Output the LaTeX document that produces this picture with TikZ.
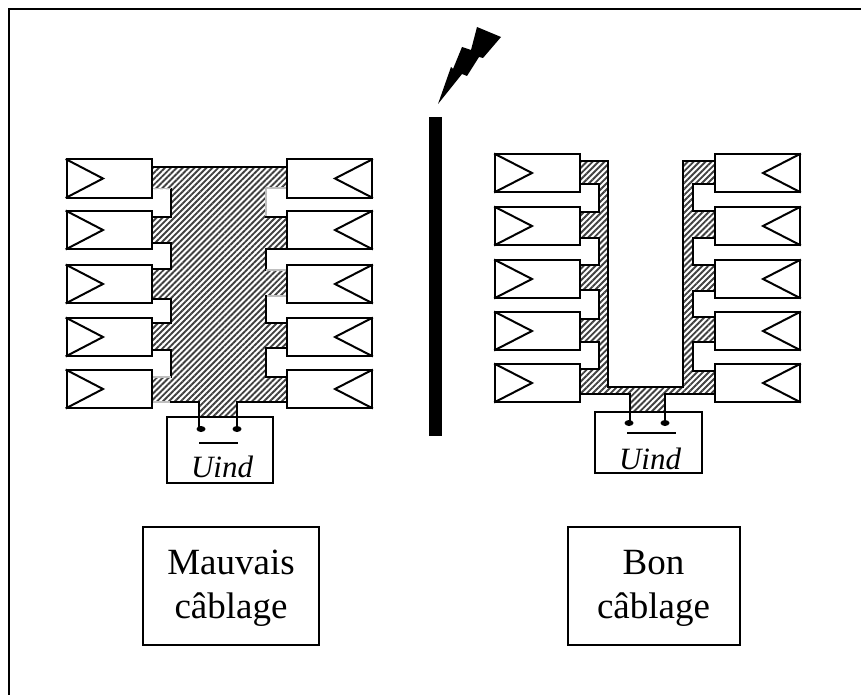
\documentclass[tikz,border=0pt]{standalone}
\usepackage{fontspec}
\setmainfont{Liberation Serif}
\usetikzlibrary{patterns.meta}
\begin{document}
\begin{tikzpicture}[x=1pt,y=-1pt,
  edge/.style={line width=2pt,black,line cap=rect},
  faint/.style={line width=1.2pt,black!25},
  hatchfill/.style={pattern={Lines[angle=45,distance=4.2pt,line width=1.9pt]},pattern color=black!75},
  module/.style={draw=black,line width=2pt,fill=white,minimum width=85pt,minimum height=38pt,inner sep=0pt,outer sep=0pt,anchor=north west},
  caption/.style={draw=black,line width=2pt,inner sep=0pt,outer sep=0pt,anchor=north west,minimum height=118pt},
  captext/.style={align=center,font=\fontsize{37}{44}\selectfont,inner sep=0pt,yshift=-2.5pt},
  uind/.style={font=\fontsize{31}{32}\selectfont\itshape,inner sep=0pt}]
\useasboundingbox (0,0) rectangle (861,695);
\draw[line width=2pt] (9,695)--(9,9.5)--(861,9.5);
% left hatched conductor
\fill[hatchfill] (151,167)--(287,167)--(287,188)--(266,188)--(266,217)--(287,217)--(287,249)--(266,249)--(266,270)--(287,270)--(287,296)--(266,296)--(266,323)--(287,323)--(287,348)--(266,348)--(266,377)--(287,377)--(287,402)--(237,402)--(237,417)--(199,417)--(199,402)--(151,402)--(151,377)--(171,377)--(171,350)--(151,350)--(151,323)--(171,323)--(171,299)--(151,299)--(151,269)--(171,269)--(171,243)--(151,243)--(151,217)--(171,217)--(171,189)--(151,189)--cycle;
\draw[edge] (151,167)--(287,167);
\draw[edge] (171,188.5)--(171,217)--(151,217);
\draw[faint] (151,188.5)--(171,188.5);
\draw[edge] (151,243)--(171,243)--(171,269)--(151,269);
\draw[edge] (151,299)--(171,299)--(171,323)--(151,323);
\draw[edge] (151,350)--(171,350)--(171,377);
\draw[faint] (151,377)--(171,377) (151,402)--(171,402);
\draw[edge] (171,402)--(199,402)--(199,429);
\draw[edge] (287,402)--(237,402)--(237,429);
\draw[faint] (287,188)--(266,188)--(266,217);
\draw[edge] (266,217)--(287,217);
\draw[edge] (287,249)--(266,249)--(266,270);
\draw[faint] (266,270)--(287,270);
\draw[faint] (287,296)--(266,296);
\draw[edge] (266,296)--(266,323)--(287,323);
\draw[edge] (287,348)--(266,348)--(266,377)--(287,377);
% right hatched conductor
\fill[hatchfill] (579,161)--(608,161)--(608,387)--(683,387)--(683,161)--(715,161)--(715,184)--(693,184)--(693,211)--(715,211)--(715,238)--(693,238)--(693,265)--(715,265)--(715,291)--(693,291)--(693,317)--(715,317)--(715,342)--(693,342)--(693,371)--(715,371)--(715,394)--(665,394)--(665,412)--(630,412)--(630,394)--(581,394)--(581,369)--(599,369)--(599,342)--(581,342)--(581,319)--(599,319)--(599,290)--(581,290)--(581,265)--(599,265)--(599,238)--(581,238)--(581,212)--(599,212)--(599,184)--(581,184)--cycle;
\draw[edge] (579,161)--(608,161)--(608,387)--(683,387)--(683,161)--(715,161);
\draw[edge] (581,184)--(599,184)--(599,212)--(581,212);
\draw[edge] (581,238)--(599,238)--(599,265)--(581,265);
\draw[edge] (581,290)--(599,290)--(599,319)--(581,319);
\draw[edge] (581,342)--(599,342)--(599,369)--(581,369);
\draw[edge] (581,394)--(630,394)--(630,423);
\draw[edge] (715,394)--(665,394)--(665,423);
\draw[edge] (715,184)--(693,184)--(693,211)--(715,211);
\draw[edge] (715,238)--(693,238)--(693,265)--(715,265);
\draw[edge] (715,291)--(693,291)--(693,317)--(715,317);
\draw[edge] (715,342)--(693,342)--(693,371)--(715,371);
% modules
\foreach \n/\y in {a/159.5,b/211,c/265,d/318,e/370}{
  \node[module] (L\n) at (66.5,\y) {};
  \node[module] (R\n) at (287,\y) {};
  \draw[edge] (L\n.north west)--(103,\y+19)--(L\n.south west);
  \draw[edge] (R\n.north east)--(335,\y+19)--(R\n.south east);
}
\foreach \n/\y in {a/154,b/207,c/260,d/312,e/364}{
  \node[module] (M\n) at (495,\y) {};
  \node[module] (N\n) at (715,\y) {};
  \draw[edge] (M\n.north west)--(532,\y+19)--(M\n.south west);
  \draw[edge] (N\n.north east)--(763,\y+19)--(N\n.south east);
}
% terminal boxes
\draw[line width=2pt] (167,417) rectangle (273,483);
\draw[line width=2pt] (595,412) rectangle (702,473);
\draw[edge] (199,417)--(199,429) (237,417)--(237,429);
\draw[edge] (630,412)--(630,423) (665,412)--(665,423);
\fill (201,429) ellipse (4.5 and 3);
\fill (237,429) ellipse (4.5 and 3);
\fill (629,423) ellipse (4.5 and 3);
\fill (665,423) ellipse (4.5 and 3);
\draw[line width=1.8pt] (199,443)--(238,443);
\draw[line width=1.8pt] (627,433)--(676,433);
\node[uind] (u1) at (222,467) {Uind};
\node[uind] (u2) at (650,459) {Uind};
% screen and lightning
\fill (429,117) rectangle (442,436);
\fill (438,104)--(451,67)--(453,69)--(462,47)--(471,50)--(477,27)--(501,37)--(483,58)--(479,57)--(467,76)--(462,74)--cycle;
% captions
\node[caption,minimum width=176pt] (c1) at (143,527) {};
\node[captext] (t1) at (c1.center) {Mauvais\\câblage};
\node[caption,minimum width=172pt] (c2) at (567.5,527) {};
\node[captext] (t2) at (c2.center) {Bon\\câblage};
\end{tikzpicture}
\end{document}
